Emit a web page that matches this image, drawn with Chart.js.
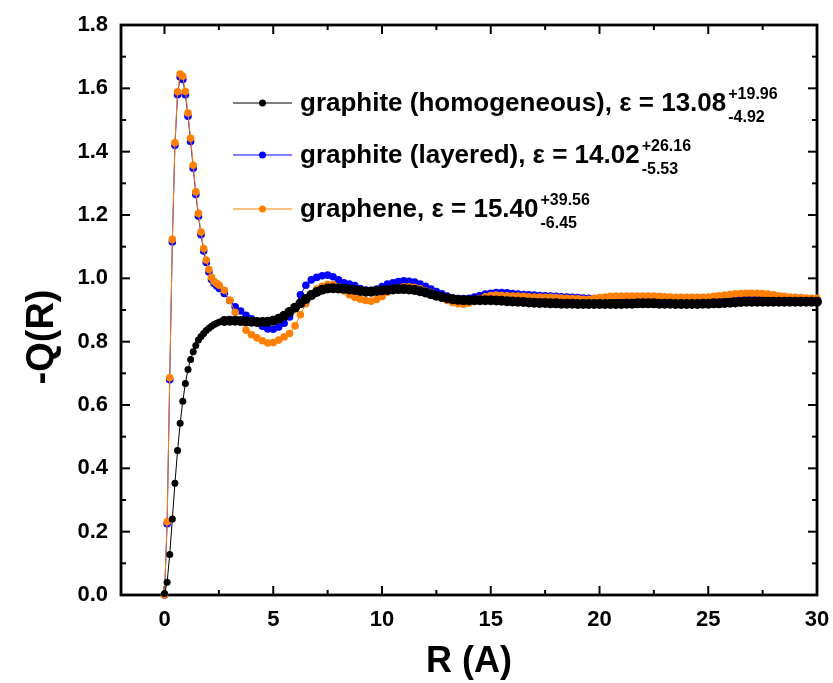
<!DOCTYPE html>
<html><head><meta charset="utf-8">
<script src="https://cdn.jsdelivr.net/npm/chart.js@4.4.1/dist/chart.umd.min.js"></script>
<style>html,body{margin:0;padding:0;background:#fff}canvas{display:block}</style>
</head><body>
<canvas id="c" width="833" height="683"></canvas>
<script>
// R grid (Angstrom)
const R = [
  0, 0.12, 0.24, 0.36, 0.48, 0.6, 0.72, 0.84, 0.96, 1.08,
  1.2, 1.32, 1.44, 1.56, 1.68, 1.8, 1.92, 2.04, 2.16, 2.28,
  2.4, 2.52,
  2.75, 3, 3.25, 3.5, 3.75, 4, 4.25, 4.5, 4.75, 5,
  5.25, 5.5, 5.75, 6, 6.25, 6.5, 6.75, 7, 7.25, 7.5,
  7.75, 8, 8.25, 8.5, 8.75, 9, 9.25, 9.5, 9.75, 10,
  10.25, 10.5, 10.75, 11, 11.25, 11.5, 11.75, 12, 12.25, 12.5,
  12.75, 13, 13.25, 13.5, 13.75, 14, 14.25, 14.5, 14.75, 15,
  15.25, 15.5, 15.75, 16, 16.25, 16.5, 16.75, 17, 17.25, 17.5,
  17.75, 18, 18.25, 18.5, 18.75, 19, 19.25, 19.5, 19.75, 20,
  20.25, 20.5, 20.75, 21, 21.25, 21.5, 21.75, 22, 22.25, 22.5,
  22.75, 23, 23.25, 23.5, 23.75, 24, 24.25, 24.5, 24.75, 25,
  25.25, 25.5, 25.75, 26, 26.25, 26.5, 26.75, 27, 27.25, 27.5,
  27.75, 28, 28.25, 28.5, 28.75, 29, 29.25, 29.5, 29.75, 30
];
// -Q(R), graphite (homogeneous)
const homogeneous = [
  0.005, 0.04, 0.128, 0.24, 0.353, 0.456, 0.542, 0.612, 0.668, 0.712,
  0.744, 0.768, 0.788, 0.805, 0.816, 0.826, 0.835, 0.842, 0.849, 0.854,
  0.858, 0.862,
  0.865, 0.866, 0.866, 0.865, 0.864, 0.863, 0.862, 0.862, 0.863, 0.866,
  0.872, 0.882, 0.894, 0.907, 0.921, 0.935, 0.947, 0.957, 0.964, 0.968,
  0.969, 0.968, 0.967, 0.965, 0.963, 0.96, 0.958, 0.958, 0.96, 0.962,
  0.963, 0.965, 0.966, 0.966, 0.965, 0.963, 0.959, 0.955, 0.95, 0.945,
  0.941, 0.937, 0.934, 0.932, 0.931, 0.931, 0.931, 0.931, 0.931, 0.931,
  0.93, 0.929, 0.928, 0.927, 0.926, 0.925, 0.924, 0.923, 0.922, 0.922,
  0.921, 0.921, 0.92, 0.92, 0.92, 0.919, 0.919, 0.919, 0.919, 0.919,
  0.919, 0.919, 0.919, 0.919, 0.92, 0.92, 0.921, 0.921, 0.921, 0.921,
  0.92, 0.92, 0.92, 0.919, 0.919, 0.919, 0.919, 0.919, 0.92, 0.92,
  0.921, 0.921, 0.922, 0.923, 0.924, 0.925, 0.926, 0.926, 0.926, 0.926,
  0.926, 0.926, 0.926, 0.926, 0.926, 0.926, 0.926, 0.926, 0.926, 0.926
];
// -Q(R), graphite (layered)
const layered = [
  0.0, 0.225, 0.68, 1.115, 1.42, 1.58, 1.636, 1.628, 1.58, 1.512,
  1.432, 1.348, 1.265, 1.196, 1.138, 1.086, 1.05, 1.02, 0.996, 0.984,
  0.976, 0.968,
  0.952, 0.93, 0.91, 0.897, 0.883, 0.872, 0.86, 0.849, 0.84, 0.839,
  0.846, 0.858, 0.878, 0.91, 0.948, 0.978, 0.995, 1.003, 1.008, 1.01,
  1.005, 0.995, 0.986, 0.982, 0.977, 0.968, 0.963, 0.962, 0.966, 0.974,
  0.982, 0.986, 0.99, 0.992, 0.991, 0.988, 0.982, 0.975, 0.966, 0.958,
  0.951, 0.944, 0.938, 0.936, 0.936, 0.937, 0.941, 0.946, 0.95, 0.953,
  0.955, 0.955, 0.954, 0.952, 0.95, 0.949, 0.948, 0.947, 0.946, 0.945,
  0.944, 0.943, 0.942, 0.941, 0.94, 0.939, 0.938, 0.937, 0.936, 0.935,
  0.935, 0.934, 0.934, 0.934, 0.934, 0.934, 0.934, 0.934, 0.934, 0.934,
  0.934, 0.933, 0.933, 0.933, 0.933, 0.933, 0.933, 0.933, 0.933, 0.933,
  0.933, 0.934, 0.935, 0.936, 0.937, 0.938, 0.939, 0.94, 0.94, 0.94,
  0.939, 0.938, 0.937, 0.936, 0.935, 0.934, 0.934, 0.933, 0.933, 0.933
];
// -Q(R), graphene
const graphene = [
  0.0, 0.231, 0.686, 1.123, 1.428, 1.589, 1.645, 1.638, 1.59, 1.522,
  1.442, 1.357, 1.273, 1.205, 1.146, 1.094, 1.058, 1.028, 1.003, 0.99,
  0.984, 0.978,
  0.962, 0.931, 0.893, 0.862, 0.836, 0.822, 0.812, 0.803, 0.796, 0.797,
  0.805, 0.815, 0.826, 0.85, 0.885, 0.92, 0.951, 0.966, 0.975, 0.98,
  0.98, 0.972, 0.96, 0.948, 0.94, 0.934, 0.93, 0.928, 0.933, 0.943,
  0.956, 0.966, 0.971, 0.973, 0.973, 0.971, 0.967, 0.961, 0.955, 0.944,
  0.937, 0.93, 0.924, 0.92, 0.918, 0.922, 0.929, 0.936, 0.942, 0.946,
  0.947, 0.946, 0.945, 0.944, 0.944, 0.943, 0.942, 0.941, 0.941, 0.94,
  0.94, 0.939, 0.938, 0.937, 0.936, 0.935, 0.934, 0.934, 0.936, 0.939,
  0.941, 0.943, 0.944, 0.944, 0.944, 0.944, 0.944, 0.944, 0.944, 0.944,
  0.943, 0.942, 0.941, 0.94, 0.94, 0.94, 0.94, 0.94, 0.94, 0.941,
  0.943, 0.945, 0.947, 0.949, 0.951, 0.952, 0.953, 0.953, 0.953, 0.952,
  0.95, 0.948, 0.945, 0.943, 0.941, 0.94, 0.939, 0.938, 0.937, 0.937
];
const xTicks = [0, 5, 10, 15, 20, 25, 30];
const yTicks = [0, 0.2, 0.4, 0.6, 0.8, 1.0, 1.2, 1.4, 1.6, 1.8];
const seriesNames = ['graphite (homogeneous)', 'graphite (layered)', 'graphene'];
const epsValues = ['13.08', '14.02', '15.40'];
const epsPlus = ['+19.96', '+26.16', '+39.56'];
const epsMinus = ['-4.92', '-5.53', '-6.45'];
const xTitle = 'R (A)';
const yTitle = '-Q(R)';

const COLORS = ['#000000', '#0000ff', '#ff8000'];
const FONT = '"Liberation Sans", Arial, sans-serif';

const pts = vals => R.map((r, i) => ({ x: r, y: vals[i] }));

const framePlugin = {
  id: 'frame',
  beforeDatasetsDraw(chart) {
    const { ctx, chartArea: a, scales: { x, y } } = chart;
    ctx.save();
    ctx.strokeStyle = '#000';
    ctx.lineCap = 'butt';
    ctx.lineWidth = 2;
    const seg = (x1, y1, x2, y2) => { ctx.beginPath(); ctx.moveTo(x1, y1); ctx.lineTo(x2, y2); ctx.stroke(); };
    const MAJ = 9, MIN = 5;
    xTicks.forEach(v => {
      const p = x.getPixelForValue(v);
      seg(p, a.bottom, p, a.bottom - MAJ); seg(p, a.top, p, a.top + MAJ);
      const m = v + 2.5;
      if (m < 30) { const q = x.getPixelForValue(m); seg(q, a.bottom, q, a.bottom - MIN); seg(q, a.top, q, a.top + MIN); }
    });
    yTicks.forEach(v => {
      const p = y.getPixelForValue(v);
      seg(a.left, p, a.left + MAJ, p); seg(a.right, p, a.right - MAJ, p);
      const m = v + 0.1;
      if (m < 1.8) { const q = y.getPixelForValue(m); seg(a.left, q, a.left + MIN, q); seg(a.right, q, a.right - MIN, q); }
    });
    ctx.lineWidth = 2.8;
    ctx.strokeRect(a.left, a.top, a.right - a.left, a.bottom - a.top);
    ctx.restore();
  },
  afterDraw(chart) {
    const { ctx, chartArea: a } = chart;
    ctx.save();
    ctx.fillStyle = '#000';
    // axis titles
    ctx.font = 'bold 36px ' + FONT;
    ctx.textAlign = 'center';
    ctx.textBaseline = 'alphabetic';
    ctx.fillText(xTitle, (a.left + a.right) / 2, 672);
    ctx.save();
    ctx.translate(53, 337);
    ctx.rotate(-Math.PI / 2);
    ctx.font = 'bold 38px ' + FONT;
    ctx.fillText(yTitle, 0, 0);
    ctx.restore();
    // legend
    const rowsY = [111, 163, 217];
    ctx.textAlign = 'left';
    seriesNames.forEach((name, i) => {
      const by = rowsY[i];
      const ly = by - 8;
      ctx.strokeStyle = COLORS[i];
      ctx.lineWidth = 1.2;
      ctx.beginPath(); ctx.moveTo(233, ly); ctx.lineTo(292, ly); ctx.stroke();
      ctx.fillStyle = COLORS[i];
      ctx.beginPath(); ctx.arc(262.5, ly, 3.5, 0, Math.PI * 2); ctx.fill();
      ctx.fillStyle = '#000';
      ctx.font = 'bold 26px ' + FONT;
      const main = name + ', \u03B5 = ' + epsValues[i];
      ctx.fillText(main, 300, by);
      const w = ctx.measureText(main).width;
      ctx.font = 'bold 16px ' + FONT;
      ctx.fillText(epsPlus[i], 300 + w + 2, by - 12);
      ctx.fillText(epsMinus[i], 300 + w + 2, by + 11);
    });
    ctx.restore();
  }
};

new Chart(document.getElementById('c'), {
  type: 'scatter',
  data: {
    datasets: [
      { label: seriesNames[0], data: pts(homogeneous), showLine: true, borderColor: COLORS[0], backgroundColor: COLORS[0],
        borderWidth: 1, pointRadius: c => (c.parsed && c.parsed.x > 2.6 ? 5 : 3.5), pointBorderWidth: 0, order: 0, clip: false },
      { label: seriesNames[1], data: pts(layered), showLine: true, borderColor: COLORS[1], backgroundColor: COLORS[1],
        borderWidth: 1, pointRadius: 3.8, pointBorderWidth: 0, order: 2, clip: false },
      { label: seriesNames[2], data: pts(graphene), showLine: true, borderColor: COLORS[2], backgroundColor: COLORS[2],
        borderWidth: 1, pointRadius: 3.8, pointBorderWidth: 0, order: 1, clip: false }
    ]
  },
  options: {
    responsive: false,
    animation: false,
    events: [],
    layout: { padding: { left: 0, right: 16, top: 25, bottom: 0 } },
    plugins: { legend: { display: false }, tooltip: { enabled: false } },
    scales: {
      x: {
        type: 'linear', min: -2, max: 30,
        afterBuildTicks: s => { s.ticks = xTicks.map(v => ({ value: v })); },
        afterFit: s => { s.height = 88; s.paddingLeft = 0; s.paddingRight = 0; },
        grid: { display: false, drawTicks: false },
        border: { display: false },
        ticks: { color: '#000', font: { family: FONT, size: 22, weight: 'bold' }, padding: 12, maxRotation: 0, autoSkip: false }
      },
      y: {
        type: 'linear', min: 0, max: 1.8,
        afterBuildTicks: s => { s.ticks = yTicks.map(v => ({ value: v })); },
        afterFit: s => { s.width = 121; s.paddingTop = 0; s.paddingBottom = 0; },
        grid: { display: false, drawTicks: false },
        border: { display: false },
        ticks: { color: '#000', font: { family: FONT, size: 22, weight: 'bold' }, padding: 13, autoSkip: false,
          callback: v => Number(v).toFixed(1) }
      }
    }
  },
  plugins: [framePlugin]
});
</script>
</body></html>
